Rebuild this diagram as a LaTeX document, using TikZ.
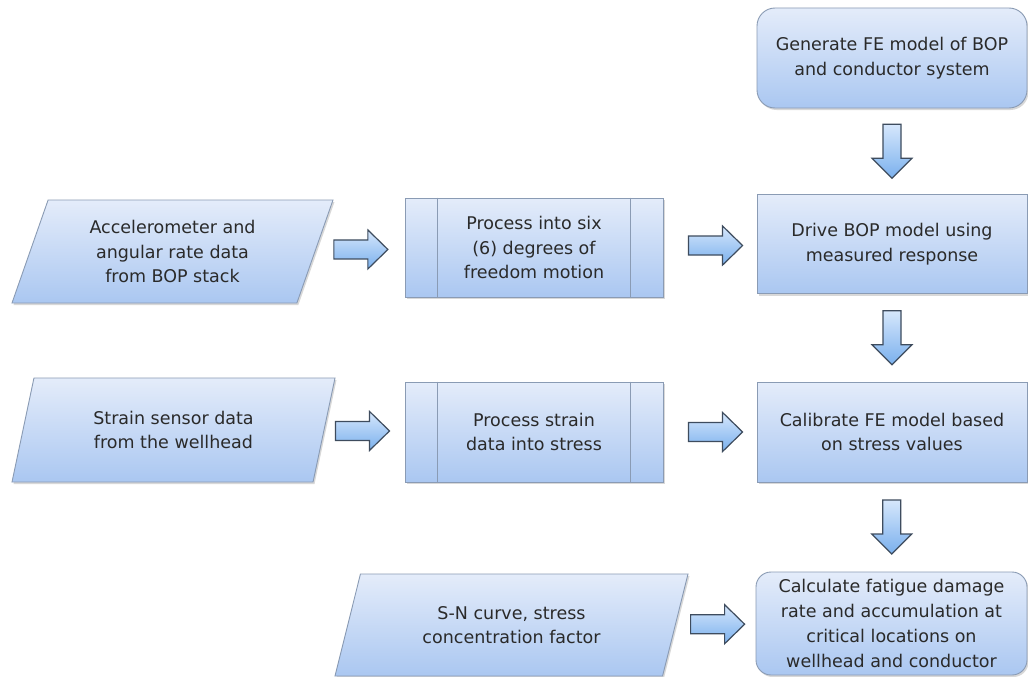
\documentclass[tikz,border=0pt]{standalone}
\usepackage{fontspec}
\setmainfont{DejaVu Sans}
\usetikzlibrary{shapes.geometric,shadows,calc}
\definecolor{boxtop}{RGB}{228,236,250}
\definecolor{boxbot}{RGB}{170,199,241}
\definecolor{boxline}{RGB}{138,155,180}
\definecolor{arrtop}{RGB}{214,231,252}
\definecolor{arrbot}{RGB}{122,176,237}
\definecolor{arrline}{RGB}{62,76,94}
\definecolor{txt}{RGB}{42,42,42}
\tikzset{
  base/.style={draw=boxline, line width=0.9pt, top color=boxtop, bottom color=boxbot,
    text=txt, align=center, inner sep=0pt,
    font=\fontsize{17.5}{24.5}\selectfont,
    drop shadow={shadow xshift=1.5pt, shadow yshift=-2pt, opacity=0.25, fill=black!60}},
  procbox/.style={base, rectangle, minimum width=270pt, minimum height=99pt},
  roundbox/.style={base, rectangle, rounded corners=18pt, minimum width=270pt, minimum height=100pt},
  subbox/.style={base, rectangle, minimum width=258pt, minimum height=99pt},
  databox/.style={base, trapezium, trapezium stretches body=true,
    trapezium left angle=60, trapezium right angle=120, minimum height=103pt},
  arrowstyle/.style={draw=arrline, line width=1.2pt, top color=arrtop, bottom color=arrbot, line join=miter},
  rarr/.pic={\path[arrowstyle] (-27,-9.5) -- (7,-9.5) -- (7,-19.5) -- (27,0) -- (7,19.5) -- (7,9.5) -- (-27,9.5) -- cycle;},
  darr/.pic={\path[arrowstyle] (-9,-27) -- (9,-27) -- (9,7) -- (20,7) -- (0,27) -- (-20,7) -- (-9,7) -- cycle;},
  sideline/.style={draw=boxline, line width=0.8pt}
}
\begin{document}
\begin{tikzpicture}[x=1pt,y=-1pt]
\useasboundingbox[fill=white] (0,0) rectangle (1028,677);

% right column
\node[roundbox] (gen) at (892,58) {Generate FE model of BOP\\and conductor system};
\node[procbox] (drive) at (892,244) {Drive BOP model using\\measured response};
\node[procbox, minimum height=100pt] (calib) at (892,432) {Calibrate FE model based\\on stress values};
\node[roundbox, rounded corners=15pt, minimum width=271pt, minimum height=103pt, font=\fontsize{17.5}{25}\selectfont] (calc) at (891.5,623.5)
  {Calculate fatigue damage\\rate and accumulation at\\critical locations on\\wellhead and conductor};

% middle column
\node[subbox] (proc1) at (534,247.5) {Process into six\\(6) degrees of\\freedom motion};
\node[subbox, minimum height=100pt] (proc2) at (534,432) {Process strain\\data into stress};
\foreach \p in {proc1,proc2}{
  \draw[sideline] ($(\p.north west)+(33,0)$) -- ($(\p.south west)+(33,0)$);
  \draw[sideline] ($(\p.north east)+(-33,0)$) -- ($(\p.south east)+(-33,0)$);
}

% data inputs
\node[databox, minimum width=321pt] (par1) at (172.5,251.5) {Accelerometer and\\angular rate data\\from BOP stack};
\node[databox, minimum width=323pt, minimum height=104pt] (par2) at (173.5,430) {Strain sensor data\\from the wellhead};
\node[databox, minimum width=353pt, minimum height=102pt, trapezium left angle=56, trapezium right angle=124] (par3) at (511.5,625) {S-N curve, stress\\concentration factor};

% block arrows between nodes
\pic at ($(par1.east)!0.51!(proc1.west)$) {rarr};
\pic at ($(proc1.east)!0.56!(drive.west)$) {rarr};
\pic at ($(par2.east)!0.475!(proc2.west)$) {rarr};
\pic at ($(proc2.east)!0.56!(calib.west)$) {rarr};
\pic at ($(par3.east)!0.525!(calc.west)$) {rarr};
\pic at ($(gen.south)!0.5!(drive.north)$) {darr};
\pic at ($(drive.south)!0.5!(calib.north)$) {darr};
\pic at ($(calib.south)!0.5!(calc.north)$) {darr};
\end{tikzpicture}
\end{document}
